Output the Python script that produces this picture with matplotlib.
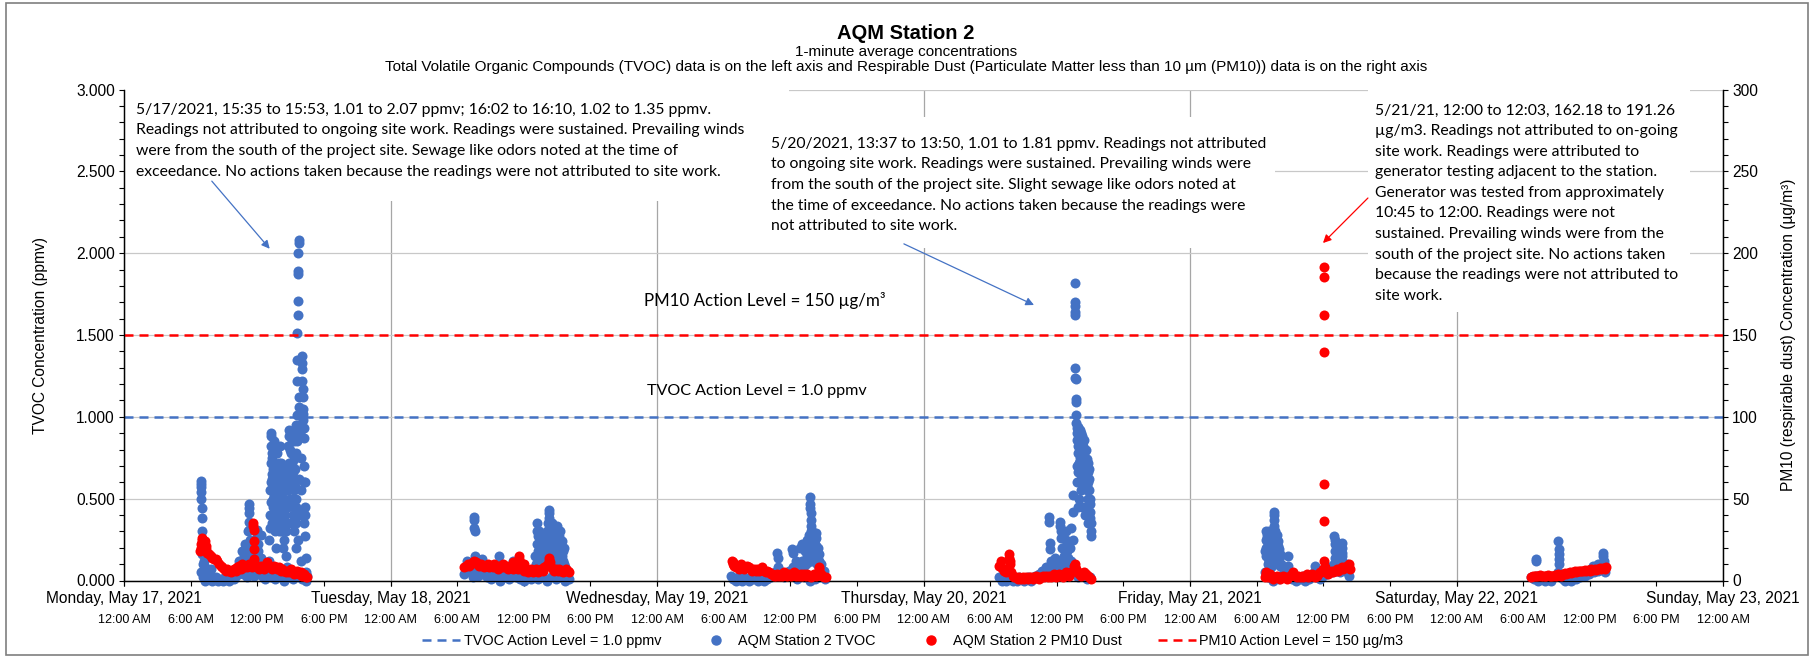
import numpy as np
import matplotlib
matplotlib.use('Agg')
import matplotlib.pyplot as plt
import matplotlib.dates as mdates
from matplotlib.ticker import MultipleLocator, FuncFormatter
from matplotlib.patches import Rectangle
from matplotlib.lines import Line2D

plt.rcParams['font.family'] = ['Liberation Sans', 'DejaVu Sans']

BLUE = '#4472C4'
RED = '#FF0000'

# ---- data (hours after midnight of each day) ----
days = [17, 18, 19, 20, 21, 22]
TVOC_STEP_H = 0.2    # regular readings (subsampled)
PM10_STEP_H = 0.15
tvoc_start_h = [6.9, 6.66, 6.67, 6.84, 6.75, 6.75]
pm10_start_h = [6.9, 6.66, 6.8, 6.84, 6.75, 6.75]

# TVOC (ppmv)
tvoc_may17_base = [0.05, 0.02, 0.00, 0.01, 0.03, 0.00, 0.01, 0.02, 0.00, 0.01,
                   0.00, 0.02, 0.01, 0.00, 0.02, 0.01, 0.03, 0.05, 0.08, 0.04,
                   0.06, 0.02, 0.09, 0.05, 0.03, 0.07, 0.04, 0.06, 0.02, 0.01,
                   0.03, 0.12, 0.35, 0.52, 0.44, 0.61, 0.48, 0.05, 0.02, 0.55,
                   0.72, 0.60, 0.45, 0.78, 0.25, 0.12, 0.42, 0.02, 0.03]
tvoc_may17_burst = [(6.92, 0.61), (6.93, 0.59), (6.94, 0.57), (6.95, 0.54), (6.97, 0.50),
                    (6.98, 0.44), (7.00, 0.38), (7.02, 0.30), (7.03, 0.23), (7.05, 0.16),
                    (7.07, 0.10), (7.10, 0.06), (7.2, 0.12), (7.3, 0.08), (7.4, 0.15),
                    (7.6, 0.05), (7.8, 0.07), (10.4, 0.12), (10.6, 0.18), (10.8, 0.15),
                    (10.9, 0.22), (11.0, 0.20), (11.1, 0.14), (11.2, 0.30), (11.25, 0.47),
                    (11.26, 0.44), (11.27, 0.41), (11.28, 0.36), (11.3, 0.31), (11.32, 0.25),
                    (11.35, 0.20), (11.5, 0.16), (11.7, 0.12), (11.9, 0.18), (12.0, 0.31),
                    (12.02, 0.27), (12.05, 0.22), (12.1, 0.18), (12.3, 0.28), (12.35, 0.14),
                    (12.5, 0.10), (12.6, 0.07),
                    (13.1, 0.25), (13.15, 0.40), (13.2, 0.60), (13.22, 0.72), (13.25, 0.82),
                    (13.27, 0.88), (13.28, 0.90), (13.3, 0.78), (13.32, 0.65), (13.35, 0.55),
                    (13.4, 0.45), (13.45, 0.50), (13.5, 0.38), (13.55, 0.62), (13.6, 0.30),
                    (13.65, 0.48), (13.7, 0.55), (13.75, 0.35), (13.8, 0.68), (13.85, 0.42),
                    (13.9, 0.50), (13.95, 0.72), (14.0, 0.60), (14.05, 0.38), (14.1, 0.65),
                    (14.15, 0.30), (14.2, 0.55), (14.25, 0.45), (14.3, 0.33), (14.35, 0.70),
                    (14.4, 0.66), (14.45, 0.25), (14.5, 0.40), (14.55, 0.15), (14.6, 0.30),
                    (14.65, 0.08), (14.75, 0.55), (14.8, 0.82), (14.85, 0.92), (14.9, 0.88),
                    (14.95, 0.70), (15.0, 0.62), (15.05, 0.78), (15.1, 0.50), (15.15, 0.85),
                    (15.2, 0.40), (15.25, 0.66), (15.3, 0.30), (15.35, 0.74), (15.4, 0.58),
                    (15.45, 0.45), (15.5, 0.20), (15.5, 0.95),
                    (13.12, 0.55), (13.18, 0.32), (13.24, 0.48), (13.3, 0.62), (13.36, 0.75),
                    (13.42, 0.68), (13.48, 0.85), (13.52, 0.58), (13.58, 0.80), (13.62, 0.42),
                    (13.68, 0.70), (13.72, 0.20), (13.78, 0.50), (13.82, 0.78), (13.88, 0.62),
                    (13.92, 0.30), (13.98, 0.45), (14.02, 0.82), (14.08, 0.52), (14.12, 0.45),
                    (14.18, 0.72), (14.22, 0.62), (14.28, 0.58), (14.32, 0.20), (14.38, 0.50),
                    (14.42, 0.35), (14.48, 0.55), (14.7, 0.35), (14.72, 0.65), (14.78, 0.45),
                    (14.82, 0.70), (14.88, 0.60), (14.92, 0.50), (14.98, 0.80), (15.02, 0.35),
                    (15.08, 0.65), (15.12, 0.72), (15.18, 0.60), (15.22, 0.50), (15.28, 0.85),
                    (15.32, 0.55), (15.38, 0.90), (15.42, 0.68), (15.48, 0.50), (15.52, 0.35),
                    (15.55, 0.85),
                    (15.58, 1.01), (15.6, 1.22), (15.61, 1.35), (15.62, 1.51), (15.63, 1.62),
                    (15.65, 1.71), (15.67, 1.87), (15.68, 1.89), (15.7, 2.00), (15.72, 2.06),
                    (15.73, 2.08), (15.75, 1.12), (15.77, 1.06), (15.8, 0.95), (15.85, 0.90),
                    (15.8, 0.62), (15.85, 0.40), (15.9, 0.75), (15.95, 0.55),
                    (16.0, 1.37), (16.03, 1.33), (16.05, 1.29), (16.07, 1.22), (16.08, 1.17),
                    (16.1, 1.12), (16.12, 1.05), (16.13, 1.02), (16.15, 0.98), (16.17, 0.93),
                    (16.2, 0.87), (16.22, 0.70), (16.25, 0.60), (16.27, 0.45), (16.3, 0.27),
                    (16.35, 0.14), (16.4, 0.05), (16.25, 0.35), (16.3, 0.60), (16.32, 0.40),
                    (13.2, 0.02), (13.6, 0.01), (14.0, 0.03), (14.4, 0.00), (14.8, 0.02),
                    (15.2, 0.01), (15.6, 0.03), (16.0, 0.01), (16.4, 0.00)]

tvoc_may18_base = [0.04, 0.08, 0.10, 0.05, 0.02, 0.06, 0.03, 0.11, 0.04, 0.10,
                   0.02, 0.05, 0.01, 0.03, 0.06, 0.02, 0.00, 0.04, 0.02, 0.05,
                   0.01, 0.03, 0.12, 0.02, 0.04, 0.01, 0.03, 0.00, 0.02, 0.04,
                   0.01, 0.06, 0.10, 0.18, 0.22, 0.12, 0.08, 0.15, 0.25, 0.10,
                   0.20, 0.14, 0.22, 0.06, 0.15, 0.04, 0.02, 0.01]
tvoc_may18_burst = [(6.9, 0.12), (7.5, 0.39), (7.52, 0.37), (7.55, 0.32), (7.57, 0.30),
                    (7.6, 0.15), (7.62, 0.12), (8.2, 0.13), (9.8, 0.15), (9.82, 0.10),
                    (13.2, 0.35), (13.22, 0.30), (13.25, 0.27), (13.3, 0.22), (13.4, 0.30),
                    (13.5, 0.16), (13.6, 0.20), (13.8, 0.28), (13.9, 0.18), (14.0, 0.20),
                    (14.1, 0.30), (14.25, 0.43), (14.27, 0.41), (14.3, 0.38), (14.32, 0.33),
                    (14.35, 0.28), (14.4, 0.20), (14.5, 0.35), (14.6, 0.25), (14.7, 0.15),
                    (14.8, 0.30), (14.9, 0.22), (15.0, 0.33), (15.02, 0.29), (15.05, 0.25),
                    (15.1, 0.18), (15.2, 0.27), (15.3, 0.20), (15.4, 0.12), (15.5, 0.18),
                    (15.6, 0.10), (13.05, 0.15), (13.15, 0.22), (13.35, 0.12), (13.45, 0.25),
                    (13.55, 0.10), (13.65, 0.28), (13.75, 0.15), (13.85, 0.22), (13.95, 0.10),
                    (14.05, 0.26), (14.15, 0.15), (14.2, 0.35), (14.45, 0.18), (14.55, 0.28),
                    (14.65, 0.10), (14.75, 0.22), (14.85, 0.12), (14.95, 0.26), (15.15, 0.12),
                    (15.25, 0.30), (15.35, 0.15), (15.45, 0.24), (15.55, 0.12), (15.65, 0.20),
                    (15.75, 0.08), (13.3, 0.01), (13.7, 0.02), (14.1, 0.00), (14.5, 0.03),
                    (14.9, 0.01), (15.3, 0.02), (15.7, 0.00)]

tvoc_may19_base = [0.03, 0.01, 0.00, 0.02, 0.01, 0.00, 0.02, 0.01, 0.00, 0.02,
                   0.01, 0.03, 0.00, 0.01, 0.02, 0.00, 0.01, 0.03, 0.02, 0.04,
                   0.05, 0.08, 0.03, 0.05, 0.02, 0.04, 0.06, 0.03, 0.08, 0.05,
                   0.10, 0.07, 0.12, 0.09, 0.15, 0.20, 0.12, 0.25, 0.18, 0.10,
                   0.06, 0.04, 0.02]
tvoc_may19_burst = [(10.85, 0.17), (10.88, 0.14), (12.2, 0.19), (12.22, 0.17), (12.5, 0.12),
                    (12.9, 0.20), (13.1, 0.22), (13.3, 0.18), (13.4, 0.10), (13.5, 0.25),
                    (13.6, 0.14), (13.7, 0.28), (13.8, 0.51), (13.81, 0.47), (13.82, 0.44),
                    (13.83, 0.41), (13.85, 0.37), (13.87, 0.33), (13.88, 0.30), (13.9, 0.27),
                    (13.92, 0.23), (13.95, 0.18), (14.0, 0.30), (14.1, 0.15), (14.3, 0.29),
                    (14.32, 0.26), (14.35, 0.21), (14.4, 0.15), (14.5, 0.20), (14.6, 0.12),
                    (14.8, 0.10), (15.0, 0.06), (13.55, 0.20), (13.65, 0.18), (13.75, 0.22),
                    (13.95, 0.14), (14.05, 0.24), (14.15, 0.20), (14.2, 0.12), (14.25, 0.22),
                    (14.45, 0.10), (14.55, 0.16), (14.7, 0.08), (13.85, 0.12),
                    (12.6, 0.01), (13.2, 0.02), (13.8, 0.00), (14.2, 0.01), (14.6, 0.02),
                    (15.15, 0.01)]

tvoc_may20_base = [0.02, 0.00, 0.01, 0.00, 0.02, 0.01, 0.00, 0.01, 0.00, 0.02,
                   0.01, 0.00, 0.01, 0.02, 0.00, 0.01, 0.03, 0.02, 0.04, 0.06,
                   0.03, 0.08, 0.05, 0.10, 0.04, 0.07, 0.12, 0.05, 0.10, 0.15,
                   0.08, 0.20, 0.12, 0.25, 0.05, 0.60, 0.72, 0.66, 0.70, 0.58,
                   0.50, 0.30]
tvoc_may20_burst = [(11.3, 0.39), (11.32, 0.36), (11.35, 0.23), (11.38, 0.19), (11.5, 0.12),
                    (11.8, 0.14), (12.1, 0.12), (12.3, 0.36), (12.32, 0.33), (12.35, 0.30),
                    (12.4, 0.26), (12.5, 0.20), (12.8, 0.30), (12.85, 0.25), (12.9, 0.22),
                    (12.95, 0.18), (13.0, 0.14), (13.2, 0.20), (13.3, 0.32), (13.45, 0.52),
                    (13.5, 0.42),
                    (13.62, 1.82), (13.64, 1.70), (13.65, 1.68), (13.66, 1.64), (13.67, 1.62),
                    (13.63, 1.30), (13.68, 1.24), (13.7, 1.23), (13.7, 1.11), (13.72, 1.09),
                    (13.72, 1.01), (13.75, 0.96), (13.78, 0.93),
                    (13.8, 0.90), (13.85, 0.86), (13.9, 0.82), (13.95, 0.78), (14.0, 0.90),
                    (14.05, 0.84), (14.1, 0.75), (14.15, 0.80), (14.2, 0.70), (14.25, 0.88),
                    (14.3, 0.77), (14.35, 0.68), (14.4, 0.82), (14.45, 0.73), (14.5, 0.64),
                    (14.55, 0.79), (14.6, 0.70), (14.65, 0.60), (14.7, 0.74), (14.75, 0.55),
                    (14.8, 0.66), (14.85, 0.50), (14.9, 0.62), (14.95, 0.47), (15.0, 0.38),
                    (15.05, 0.35), (15.1, 0.27), (14.2, 0.55), (14.0, 0.50), (13.9, 0.45),
                    (14.1, 0.60), (14.5, 0.40), (14.3, 0.45), (14.6, 0.45), (14.8, 0.35),
                    (13.82, 0.70), (13.88, 0.94), (13.92, 0.66), (13.98, 0.85), (14.02, 0.72),
                    (14.08, 0.92), (14.12, 0.68), (14.18, 0.90), (14.22, 0.62), (14.28, 0.83),
                    (14.32, 0.58), (14.38, 0.75), (14.42, 0.66), (14.48, 0.86), (14.52, 0.70),
                    (14.58, 0.62), (14.62, 0.80), (14.68, 0.67), (14.72, 0.58), (14.78, 0.72),
                    (14.82, 0.60), (14.88, 0.55), (14.92, 0.68), (14.98, 0.42), (15.02, 0.50),
                    (13.9, 0.02), (14.3, 0.03), (14.7, 0.01), (15.0, 0.02)]

tvoc_may21_base = [0.05, 0.20, 0.12, 0.25, 0.18, 0.22, 0.10, 0.15, 0.04, 0.02,
                   0.06, 0.03, 0.01, 0.03, 0.00, 0.02, 0.01, 0.03, 0.00, 0.02,
                   0.01, 0.03, 0.05, 0.02, 0.04, 0.01, 0.03, 0.06, 0.04, 0.08,
                   0.05, 0.10, 0.06, 0.08, 0.05, 0.10, 0.07, 0.05, 0.03]
tvoc_may21_burst = [(6.8, 0.25), (6.85, 0.15), (6.9, 0.28), (7.0, 0.10), (7.05, 0.22),
                    (7.1, 0.30), (7.2, 0.18), (7.25, 0.08), (7.3, 0.14), (7.4, 0.20),
                    (7.45, 0.30), (7.5, 0.12), (7.55, 0.42), (7.57, 0.40), (7.58, 0.37),
                    (7.6, 0.33), (7.62, 0.30), (7.65, 0.26), (7.7, 0.16), (7.8, 0.28),
                    (7.85, 0.20), (7.9, 0.24), (8.0, 0.14), (8.05, 0.19), (8.1, 0.09),
                    (8.2, 0.10), (6.78, 0.18), (6.82, 0.30), (6.88, 0.20), (6.95, 0.26),
                    (7.0, 0.17), (7.08, 0.12), (7.15, 0.24), (7.22, 0.27), (7.28, 0.20),
                    (7.35, 0.16), (7.42, 0.24), (7.48, 0.19), (7.52, 0.27), (7.68, 0.22),
                    (7.75, 0.12), (7.82, 0.17), (7.95, 0.21), (8.02, 0.10), (8.12, 0.16),
                    (8.85, 0.15), (8.87, 0.09), (11.25, 0.09), (12.2, 0.07),
                    (12.7, 0.06), (13.0, 0.27), (13.02, 0.25), (13.04, 0.22), (13.06, 0.18),
                    (13.08, 0.14), (13.1, 0.11), (13.4, 0.10), (13.65, 0.23), (13.67, 0.20),
                    (13.69, 0.17), (13.7, 0.15), (13.72, 0.12), (13.9, 0.08), (14.1, 0.10),
                    (14.3, 0.07), (7.0, 0.02), (7.5, 0.00), (8.0, 0.01)]

tvoc_may22_base = [0.02, 0.01, 0.03, 0.00, 0.02, 0.01, 0.00, 0.02, 0.01, 0.00,
                   0.02, 0.03, 0.05, 0.02, 0.01, 0.00, 0.02, 0.01, 0.00, 0.02,
                   0.01, 0.03, 0.02, 0.04, 0.03, 0.05, 0.04, 0.07, 0.05, 0.09,
                   0.06, 0.10, 0.08, 0.05]
tvoc_may22_burst = [(7.18, 0.13), (7.2, 0.12), (9.18, 0.24), (9.2, 0.19), (9.22, 0.16),
                    (9.24, 0.13), (9.26, 0.10), (12.3, 0.09), (12.5, 0.08), (12.7, 0.10),
                    (12.9, 0.07), (13.2, 0.17), (13.22, 0.15), (13.25, 0.12), (13.3, 0.10),
                    (13.4, 0.08)]

# PM10 (ug/m3)
pm10_may17_base = [20, 25, 23, 19, 17, 16, 15, 14, 13, 13, 12, 10, 9, 8, 7, 6, 7, 6, 5, 6,
                   7, 6, 8, 9, 7, 10, 8, 9, 8, 10, 9, 8, 11, 9, 8, 7, 9, 8, 7, 8,
                   11, 9, 8, 7, 9, 8, 7, 8, 6, 7, 6, 5, 6, 5, 7, 5, 4, 5, 6, 4,
                   5, 3, 4, 2, 2]
pm10_may17_burst = [(6.85, 18), (6.95, 22), (7.0, 26), (7.1, 21), (7.3, 24), (7.4, 21),
                    (11.65, 35), (11.66, 33), (11.68, 31), (11.7, 24), (11.72, 19), (11.75, 13)]
pm10_may18_base = [8, 9, 10, 9, 10, 11, 12, 11, 10, 9, 10, 9, 8, 9, 10, 8, 9, 8, 10, 8,
                   7, 9, 8, 10, 8, 9, 7, 8, 9, 7, 8, 10, 7, 15, 9, 7, 6, 7, 5, 6,
                   7, 5, 6, 7, 5, 6, 7, 6, 8, 9, 10, 14, 8, 7, 6, 7, 6, 7, 6, 5,
                   6, 7, 6, 5]
pm10_may18_burst = [(11.58, 13), (11.62, 11), (14.28, 12), (14.33, 11), (11.0, 11), (12.0, 10)]
pm10_may19_base = [10, 9, 8, 9, 7, 8, 9, 7, 8, 9, 8, 7, 6, 7, 6, 7, 6, 7, 8, 6,
                   5, 6, 5, 4, 4, 3, 3, 4, 3, 4, 3, 5, 4, 3, 4, 3, 4, 5, 3, 4,
                   3, 4, 3, 4, 3, 4, 3, 2, 3, 4, 3, 4, 7, 4, 3, 2, 2]
pm10_may19_burst = [(6.75, 12), (6.85, 11), (7.6, 10), (14.58, 8)]
pm10_may20_base = [9, 8, 7, 6, 5, 7, 16, 5, 3, 2, 2, 1, 2, 1, 2, 1, 2, 1, 2, 2,
                   1, 2, 3, 2, 1, 2, 3, 2, 3, 2, 3, 2, 3, 4, 2, 3, 4, 3, 2, 4,
                   5, 4, 3, 5, 6, 9, 7, 5, 4, 3, 4, 5, 4, 3, 2, 1]
pm10_may20_burst = [(7.0, 12), (7.72, 14), (7.75, 12), (7.78, 10), (13.6, 8), (13.62, 7), (13.65, 10)]
pm10_may21_base = [2, 3, 2, 4, 2, 1, 2, 3, 2, 1, 2, 3, 2, 1, 2, 3, 4, 5, 3, 2,
                   3, 2, 3, 2, 3, 4, 2, 3, 4, 3, 2, 3, 4, 5, 6, 7, 5, 6, 4, 5,
                   6, 5, 6, 7, 6, 7, 8, 7, 8, 9, 8, 7]
pm10_may21_burst = [(12.03, 191.26), (12.04, 185.3), (12.05, 162.18), (12.06, 139.4),
                    (12.07, 58.8), (12.08, 36.2), (12.1, 12.1), (12.2, 8), (14.3, 10),
                    (6.8, 5), (6.85, 4)]
pm10_may22_base = [2, 2.5, 3, 2.5, 3, 3.5, 3, 3, 2.5, 3, 3.5, 3, 2.5, 3, 3.5, 3, 4, 3.5, 3, 4,
                   4.5, 4, 4.5, 5, 4.5, 5, 5.5, 5, 5.5, 6, 5.5, 6, 6.5, 6, 6.5, 6, 7, 6.5, 7, 6.5,
                   7, 7.5, 7, 7.5, 7, 8]
pm10_may22_burst = []

tvoc_base = [tvoc_may17_base, tvoc_may18_base, tvoc_may19_base,
             tvoc_may20_base, tvoc_may21_base, tvoc_may22_base]
tvoc_burst = [tvoc_may17_burst, tvoc_may18_burst, tvoc_may19_burst,
              tvoc_may20_burst, tvoc_may21_burst, tvoc_may22_burst]
pm10_base = [pm10_may17_base, pm10_may18_base, pm10_may19_base,
             pm10_may20_base, pm10_may21_base, pm10_may22_base]
pm10_burst = [pm10_may17_burst, pm10_may18_burst, pm10_may19_burst,
              pm10_may20_burst, pm10_may21_burst, pm10_may22_burst]

TVOC_ACTION = 1.0
PM10_ACTION = 150

note_may17 = ("5/17/2021, 15:35 to 15:53, 1.01 to 2.07 ppmv; 16:02 to 16:10, 1.02 to 1.35 ppmv.\n"
              "Readings not attributed to ongoing site work. Readings were sustained. Prevailing winds\n"
              "were from the south of the project site. Sewage like odors noted at the time of\n"
              "exceedance. No actions taken because the readings were not attributed to site work.")
note_may20 = ("5/20/2021, 13:37 to 13:50, 1.01 to 1.81 ppmv. Readings not attributed\n"
              "to ongoing site work. Readings were sustained. Prevailing winds were\n"
              "from the south of the project site. Slight sewage like odors noted at\n"
              "the time of exceedance. No actions taken because the readings were\n"
              "not attributed to site work.")
note_may21 = ("5/21/21, 12:00 to 12:03, 162.18 to 191.26\n"
              "µg/m3. Readings not attributed to on-going\n"
              "site work. Readings were attributed to\n"
              "generator testing adjacent to the station.\n"
              "Generator was tested from approximately\n"
              "10:45 to 12:00. Readings were not\n"
              "sustained. Prevailing winds were from the\n"
              "south of the project site. No actions taken\n"
              "because the readings were not attributed to\n"
              "site work.")


def stamp(day, hours):
    base = np.datetime64(f'2021-05-{day:02d}T00:00:00')
    secs = np.round(np.asarray(hours, dtype=float) * 3600).astype('int64')
    return base + secs.astype('timedelta64[s]')


def collect(starts, step, bases, bursts):
    t, v = [], []
    for day, h0, base, burst in zip(days, starts, bases, bursts):
        hrs = h0 + step * np.arange(len(base))
        t.append(stamp(day, hrs))
        v.append(np.asarray(base, float))
        if burst:
            bh, bv = zip(*burst)
            t.append(stamp(day, bh))
            v.append(np.asarray(bv, float))
    return np.concatenate(t), np.concatenate(v)


tvoc_t, tvoc_v = collect(tvoc_start_h, TVOC_STEP_H, tvoc_base, tvoc_burst)
pm10_t, pm10_v = collect(pm10_start_h, PM10_STEP_H, pm10_base, pm10_burst)

# ---- figure ----
W, H = 1812, 658
fig = plt.figure(figsize=(W / 100, H / 100), dpi=100)
L, R, T, B = 124, 1723, 89.5, 580.5
ax = fig.add_axes([L / W, 1 - B / H, (R - L) / W, (B - T) / H])
ax2 = ax.twinx()

x0, x1 = np.datetime64('2021-05-17'), np.datetime64('2021-05-23')
ax.set_xlim(x0, x1)
ax.set_ylim(0, 3)
ax2.set_ylim(0, 300)

ax.set_axisbelow(True)
ax.yaxis.set_major_locator(MultipleLocator(0.5))
ax.yaxis.set_minor_locator(MultipleLocator(0.1))
ax.yaxis.set_major_formatter(FuncFormatter(lambda v, p: f'{v:.3f}'))
ax2.yaxis.set_major_locator(MultipleLocator(50))
ax2.yaxis.set_minor_locator(MultipleLocator(10))

ax.xaxis.set_major_locator(mdates.DayLocator())
ax.xaxis.set_major_formatter(mdates.DateFormatter('%A, %B %d, %Y'))
ax.xaxis.set_minor_locator(mdates.HourLocator(byhour=[0, 6, 12, 18]))
ax.xaxis.set_minor_formatter(FuncFormatter(
    lambda v, p: mdates.num2date(v).strftime('%I:%M %p').lstrip('0')))
ax.xaxis.remove_overlapping_locs = False

ax.grid(True, axis='y', which='major', color='#C8C8C8', lw=0.9)
ax.grid(True, axis='x', which='major', color='#A6A6A6', lw=0.9)

for a in (ax, ax2):
    a.spines['top'].set_visible(False)
    for s in ('left', 'right', 'bottom'):
        a.spines[s].set_color('black')
        a.spines[s].set_linewidth(0.9)
ax.tick_params(axis='y', which='both', direction='out', length=3.6, width=0.8,
               labelsize=11.2, pad=3)
ax2.tick_params(axis='y', which='both', direction='out', length=3.6, width=0.8,
                labelsize=11.2, pad=3)
ax.tick_params(axis='x', which='major', direction='out', length=3.6, width=0.8,
               labelsize=11.2, pad=4)
ax.tick_params(axis='x', which='minor', direction='out', length=3.6, width=0.8,
               labelsize=9, pad=20.5)

# white boxes behind the notes
d0 = mdates.date2num(x0)
box_kw = dict(facecolor='white', edgecolor='none', zorder=1)
ax.add_patch(Rectangle((d0 + 0.004, 2.32), 2.49, 0.675, **box_kw))
ax.add_patch(Rectangle((d0 + 2.405, 2.03), 1.915, 0.80, **box_kw))
ax.add_patch(Rectangle((d0 + 4.668, 1.64), 1.21, 1.355, **box_kw))

# series
ax.axhline(TVOC_ACTION, color=BLUE, lw=1.8, ls=(0, (3.6, 2.4)), zorder=2)
ax.scatter(tvoc_t, tvoc_v, s=52, color=BLUE, linewidths=0, clip_on=False, zorder=3)
ax2.scatter(pm10_t, pm10_v, s=52, color=RED, linewidths=0, clip_on=False, zorder=3)
ax2.axhline(PM10_ACTION, color=RED, lw=1.8, ls=(0, (3.6, 2.4)), zorder=2)

note_kw = dict(family=['Lato', 'DejaVu Sans'], fontsize=11.35, linespacing=1.6,
               va='top', ha='left', zorder=5)
ax.text(d0 + 0.045, 2.919, note_may17, **note_kw)
ax.text(d0 + 2.428, 2.711, note_may20, **note_kw)
ax.text(d0 + 4.694, 2.915, note_may21, **note_kw)
ax.text(d0 + 1.951, 1.71, 'PM10 Action Level = 150 µg/m³', family=['Lato', 'DejaVu Sans'],
        fontsize=12.2, va='center', ha='left', zorder=5)
ax.text(d0 + 1.962, 1.16, 'TVOC Action Level = 1.0 ppmv', family=['Lato', 'DejaVu Sans'],
        fontsize=11.6, va='center', ha='left', zorder=5)

ax.annotate('', xy=(d0 + 0.5535, 2.014), xytext=(d0 + 0.3227, 2.453),
            arrowprops=dict(arrowstyle='-|>', color=BLUE, lw=0.9, mutation_scale=12), zorder=4)
ax.annotate('', xy=(d0 + 3.424, 1.676), xytext=(d0 + 2.917, 2.064),
            arrowprops=dict(arrowstyle='-|>', color=BLUE, lw=0.9, mutation_scale=12), zorder=4)
ax.annotate('', xy=(d0 + 4.4916, 2.05), xytext=(d0 + 4.675, 2.349),
            arrowprops=dict(arrowstyle='-|>', color=RED, lw=0.9, mutation_scale=12), zorder=4)

# titles and axis labels
fig.text(0.5, 1 - 33.5 / H, 'AQM Station 2', ha='center', va='center', fontsize=14.5, fontweight='bold')
fig.text(0.5, 1 - 52 / H, '1-minute average concentrations', ha='center', va='center', fontsize=11)
fig.text(0.5, 1 - 67.5 / H,
         'Total Volatile Organic Compounds (TVOC) data is on the left axis and Respirable Dust '
         '(Particulate Matter less than 10 µm (PM10)) data is on the right axis',
         ha='center', va='center', fontsize=11)
fig.text(41 / W, 1 - 335 / H, 'TVOC Concentration (ppmv)', rotation=90,
         ha='center', va='center', fontsize=11.2)
fig.text(1789 / W, 1 - 335 / H, 'PM10 (respirable dust) Concentration (µg/m³)', rotation=90,
         ha='center', va='center', fontsize=11.2)

# legend
handles = [Line2D([], [], color=BLUE, lw=1.8, ls=(0, (3.6, 2.4))),
           Line2D([], [], color=BLUE, marker='o', ls='none', markersize=6.5),
           Line2D([], [], color=RED, marker='o', ls='none', markersize=6.5),
           Line2D([], [], color=RED, lw=1.8, ls=(0, (3.6, 2.4)))]
labels = ['TVOC Action Level = 1.0 ppmv', 'AQM Station 2 TVOC',
          'AQM Station 2 PM10 Dust', 'PM10 Action Level = 150 µg/m3']
fig.legend(handles, labels, loc='center', bbox_to_anchor=(913 / W, 1 - 641 / H), ncol=4,
           frameon=False, fontsize=10.4, handlelength=2.6, handletextpad=0.25,
           columnspacing=2.5)

fig.add_artist(Rectangle((6 / W, 3 / H), (1808 - 6) / W, (655 - 3) / H, transform=fig.transFigure,
                         facecolor='none', edgecolor='#7F7F7F', lw=1.2))

fig.savefig('out.png', dpi=100)
